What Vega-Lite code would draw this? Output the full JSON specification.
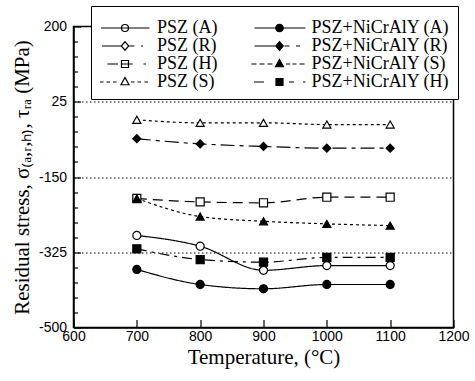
{
  "$schema": "https://vega.github.io/schema/vega-lite/v6.json",
  "width": 380,
  "height": 301,
  "autosize": {"type": "none"},
  "padding": {"left": 73.5, "top": 26.5, "right": 21.5, "bottom": 53.5},
  "background": "white",
  "config": {
    "view": {"stroke": "black", "strokeWidth": 1.5},
    "font": "Liberation Sans"
  },
  "data": {
    "values": [
      {"series": "PSZ (S)", "temp": 700, "stress": -17},
      {"series": "PSZ (S)", "temp": 800, "stress": -24},
      {"series": "PSZ (S)", "temp": 900, "stress": -24},
      {"series": "PSZ (S)", "temp": 1000, "stress": -28},
      {"series": "PSZ (S)", "temp": 1100, "stress": -28},
      {"series": "PSZ+NiCrAlY (R)", "temp": 700, "stress": -61},
      {"series": "PSZ+NiCrAlY (R)", "temp": 800, "stress": -73},
      {"series": "PSZ+NiCrAlY (R)", "temp": 900, "stress": -79},
      {"series": "PSZ+NiCrAlY (R)", "temp": 1000, "stress": -83},
      {"series": "PSZ+NiCrAlY (R)", "temp": 1100, "stress": -83},
      {"series": "PSZ (H)", "temp": 700, "stress": -200},
      {"series": "PSZ (H)", "temp": 800, "stress": -208},
      {"series": "PSZ (H)", "temp": 900, "stress": -210},
      {"series": "PSZ (H)", "temp": 1000, "stress": -197},
      {"series": "PSZ (H)", "temp": 1100, "stress": -197},
      {"series": "PSZ+NiCrAlY (S)", "temp": 700, "stress": -200},
      {"series": "PSZ+NiCrAlY (S)", "temp": 800, "stress": -242},
      {"series": "PSZ+NiCrAlY (S)", "temp": 900, "stress": -253},
      {"series": "PSZ+NiCrAlY (S)", "temp": 1000, "stress": -259},
      {"series": "PSZ+NiCrAlY (S)", "temp": 1100, "stress": -263},
      {"series": "PSZ (A)", "temp": 700, "stress": -286},
      {"series": "PSZ (A)", "temp": 800, "stress": -311},
      {"series": "PSZ (A)", "temp": 900, "stress": -367},
      {"series": "PSZ (A)", "temp": 1000, "stress": -356},
      {"series": "PSZ (A)", "temp": 1100, "stress": -356},
      {"series": "PSZ+NiCrAlY (H)", "temp": 700, "stress": -317},
      {"series": "PSZ+NiCrAlY (H)", "temp": 800, "stress": -342},
      {"series": "PSZ+NiCrAlY (H)", "temp": 900, "stress": -348},
      {"series": "PSZ+NiCrAlY (H)", "temp": 1000, "stress": -337},
      {"series": "PSZ+NiCrAlY (H)", "temp": 1100, "stress": -337},
      {"series": "PSZ+NiCrAlY (A)", "temp": 700, "stress": -365},
      {"series": "PSZ+NiCrAlY (A)", "temp": 800, "stress": -400},
      {"series": "PSZ+NiCrAlY (A)", "temp": 900, "stress": -410},
      {"series": "PSZ+NiCrAlY (A)", "temp": 1000, "stress": -400},
      {"series": "PSZ+NiCrAlY (A)", "temp": 1100, "stress": -400}
    ]
  },
  "encoding": {
    "x": {
      "field": "temp", "type": "quantitative",
      "scale": {"domain": [600, 1200], "nice": false, "zero": false},
      "axis": {
        "values": [600, 700, 800, 900, 1000, 1100, 1200],
        "format": "d",
        "title": "Temperature, (°C)",
        "titleFont": "Liberation Serif", "titleFontSize": 21, "titleFontWeight": "normal", "titleColor": "black", "titlePadding": 3,
        "labelFont": "Liberation Sans", "labelFontSize": 14, "labelColor": "black", "labelPadding": 10, "labelFlush": false, "labelOverlap": false,
        "tickSize": -8, "tickColor": "black", "tickWidth": 1.2,
        "domainColor": "black", "domainWidth": 1.5, "grid": false
      }
    },
    "y": {
      "field": "stress", "type": "quantitative",
      "scale": {"domain": [-500, 200], "nice": false, "zero": false},
      "axis": {
        "values": [200, 165, 130, 95, 60, 25, -10, -45, -80, -115, -150, -185, -220, -255, -290, -325, -360, -395, -430, -465, -500],
        "labelExpr": "indexof([200, 25, -150, -325, -500], datum.value) >= 0 ? '' + datum.value : ''",
        "title": "Residual stress, σ₍ₐ,ᵣ,ₕ₎, τᵣₐ (MPa)",
        "titleFont": "Liberation Serif", "titleFontSize": 21, "titleFontWeight": "normal", "titleColor": "black", "titlePadding": 6,
        "labelFont": "Liberation Sans", "labelFontSize": 14, "labelColor": "black", "labelPadding": 14, "labelFlush": false, "labelOverlap": false,
        "tickSize": {"condition": {"test": "indexof([200, 25, -150, -325, -500], datum.value) >= 0", "value": -7}, "value": -4},
        "tickColor": "black", "tickWidth": 1.2,
        "domainColor": "black", "domainWidth": 1.5,
        "grid": true, "gridColor": "black", "gridDash": [1.5, 2.5], "gridWidth": 1,
        "gridOpacity": {"condition": {"test": "indexof([25, -150, -325], datum.value) >= 0", "value": 1}, "value": 0}
      }
    }
  },
  "layer": [
    {
      "mark": {"type": "line", "color": "black", "strokeWidth": 1.2, "interpolate": "monotone"},
      "encoding": {
        "strokeDash": {
          "field": "series", "type": "nominal", "legend": null,
          "scale": {
            "domain": ["PSZ (A)", "PSZ (H)", "PSZ (R)", "PSZ (S)", "PSZ+NiCrAlY (A)", "PSZ+NiCrAlY (H)", "PSZ+NiCrAlY (R)", "PSZ+NiCrAlY (S)"],
            "range": [[1, 0], [10, 6], [8, 3, 2, 3], [3, 3], [1, 0], [10, 5, 3, 5], [14, 5, 4, 5], [3, 3]]
          }
        }
      }
    },
    {
      "mark": {
        "type": "point", "filled": true, "strokeWidth": 1.2, "size": 65,
        "fill": {"expr": "datum.series ? (indexof(datum.series, 'NiCrAlY') >= 0 ? 'black' : 'white') : (indexof('' + datum.value, 'NiCrAlY') >= 0 ? 'black' : 'transparent')"},
        "shape": {"expr": "datum.value == 'PSZ (A)' ? 'M-1.4,0L8.3,0M4.1,0A0.7,0.7,0,1,1,2.7,0A0.7,0.7,0,1,1,4.1,0Z' : datum.value == 'PSZ (R)' ? 'M-1.2,0L2.65,0M4.3,0L5.3,0M6.6,0L7,0M3.4,-0.85L4.15,0L3.4,0.85L2.65,0Z' : datum.value == 'PSZ (H)' ? 'M-0.1,0L2,0M2.7,0L4.9,0M7.1,0L7.6,0M2.7,-0.7L4.1,-0.7L4.1,0.7L2.7,0.7Z' : datum.value == 'PSZ (S)' ? 'M-1.6,0L-0.9,0M-0.3,0L0.4,0M1,0L1.7,0M4.6,0L5.3,0M5.9,0L6.6,0M7.3,0L8,0M3.4,-0.9L4.2,0.55L2.6,0.55Z' : datum.value == 'PSZ+NiCrAlY (A)' ? 'M-1.6,0L8.6,0M4.15,0A0.75,0.75,0,1,1,2.65,0A0.75,0.75,0,1,1,4.15,0Z' : datum.value == 'PSZ+NiCrAlY (R)' ? 'M-1.6,0L2.65,0M4.4,0L5.4,0M6.7,0L7.5,0M3.4,-0.85L4.15,0L3.4,0.85L2.65,0Z' : datum.value == 'PSZ+NiCrAlY (S)' ? 'M-2.2,0L-1.2,0M-0.6,0L0.4,0M1,0L2,0M4.7,0L5.5,0M6,0L6.8,0M7.4,0L8.4,0M3.4,-0.9L4.2,0.55L2.6,0.55Z' : 'M-1.7,0L0.3,0M5.3,0L6.3,0M8.1,0L8.6,0M2.7,-0.7L4.1,-0.7L4.1,0.7L2.7,0.7Z'"}
      },
      "encoding": {
        "stroke": {"value": "black"},
        "shape": {
          "field": "series", "type": "nominal", "legend": null,
          "scale": {
            "domain": ["PSZ (A)", "PSZ (H)", "PSZ (R)", "PSZ (S)", "PSZ+NiCrAlY (A)", "PSZ+NiCrAlY (H)", "PSZ+NiCrAlY (R)", "PSZ+NiCrAlY (S)"],
            "range": ["circle", "square", "diamond", "triangle-up", "circle", "square", "diamond", "triangle-up"]
          }
        },
        "opacity": {
          "field": "series", "type": "nominal",
          "scale": {
            "domain": ["PSZ (A)", "PSZ (R)", "PSZ (H)", "PSZ (S)", "PSZ+NiCrAlY (A)", "PSZ+NiCrAlY (R)", "PSZ+NiCrAlY (S)", "PSZ+NiCrAlY (H)"],
            "range": [1, 1, 1, 1, 1, 1, 1, 1]
          },
          "legend": {
            "orient": "none", "legendX": 17.5, "legendY": -20.5, "columns": 2,
            "title": " ", "titleFontSize": 5, "titlePadding": 0,
            "labelFont": "Liberation Serif", "labelFontSize": 18, "labelColor": "black", "labelLimit": 300,
            "symbolSize": 100, "symbolOffset": 0, "labelOffset": 40, "columnPadding": 30.5, "rowPadding": -0.5, "padding": 8,
            "fillColor": "white", "strokeColor": "black", "symbolOpacity": 1,
            "symbolStrokeWidth": 1.2,
            "encode": {
              "legend": {"strokeWidth": {"value": 1.5}}
            }
          }
        }
      }
    }
  ]
}
